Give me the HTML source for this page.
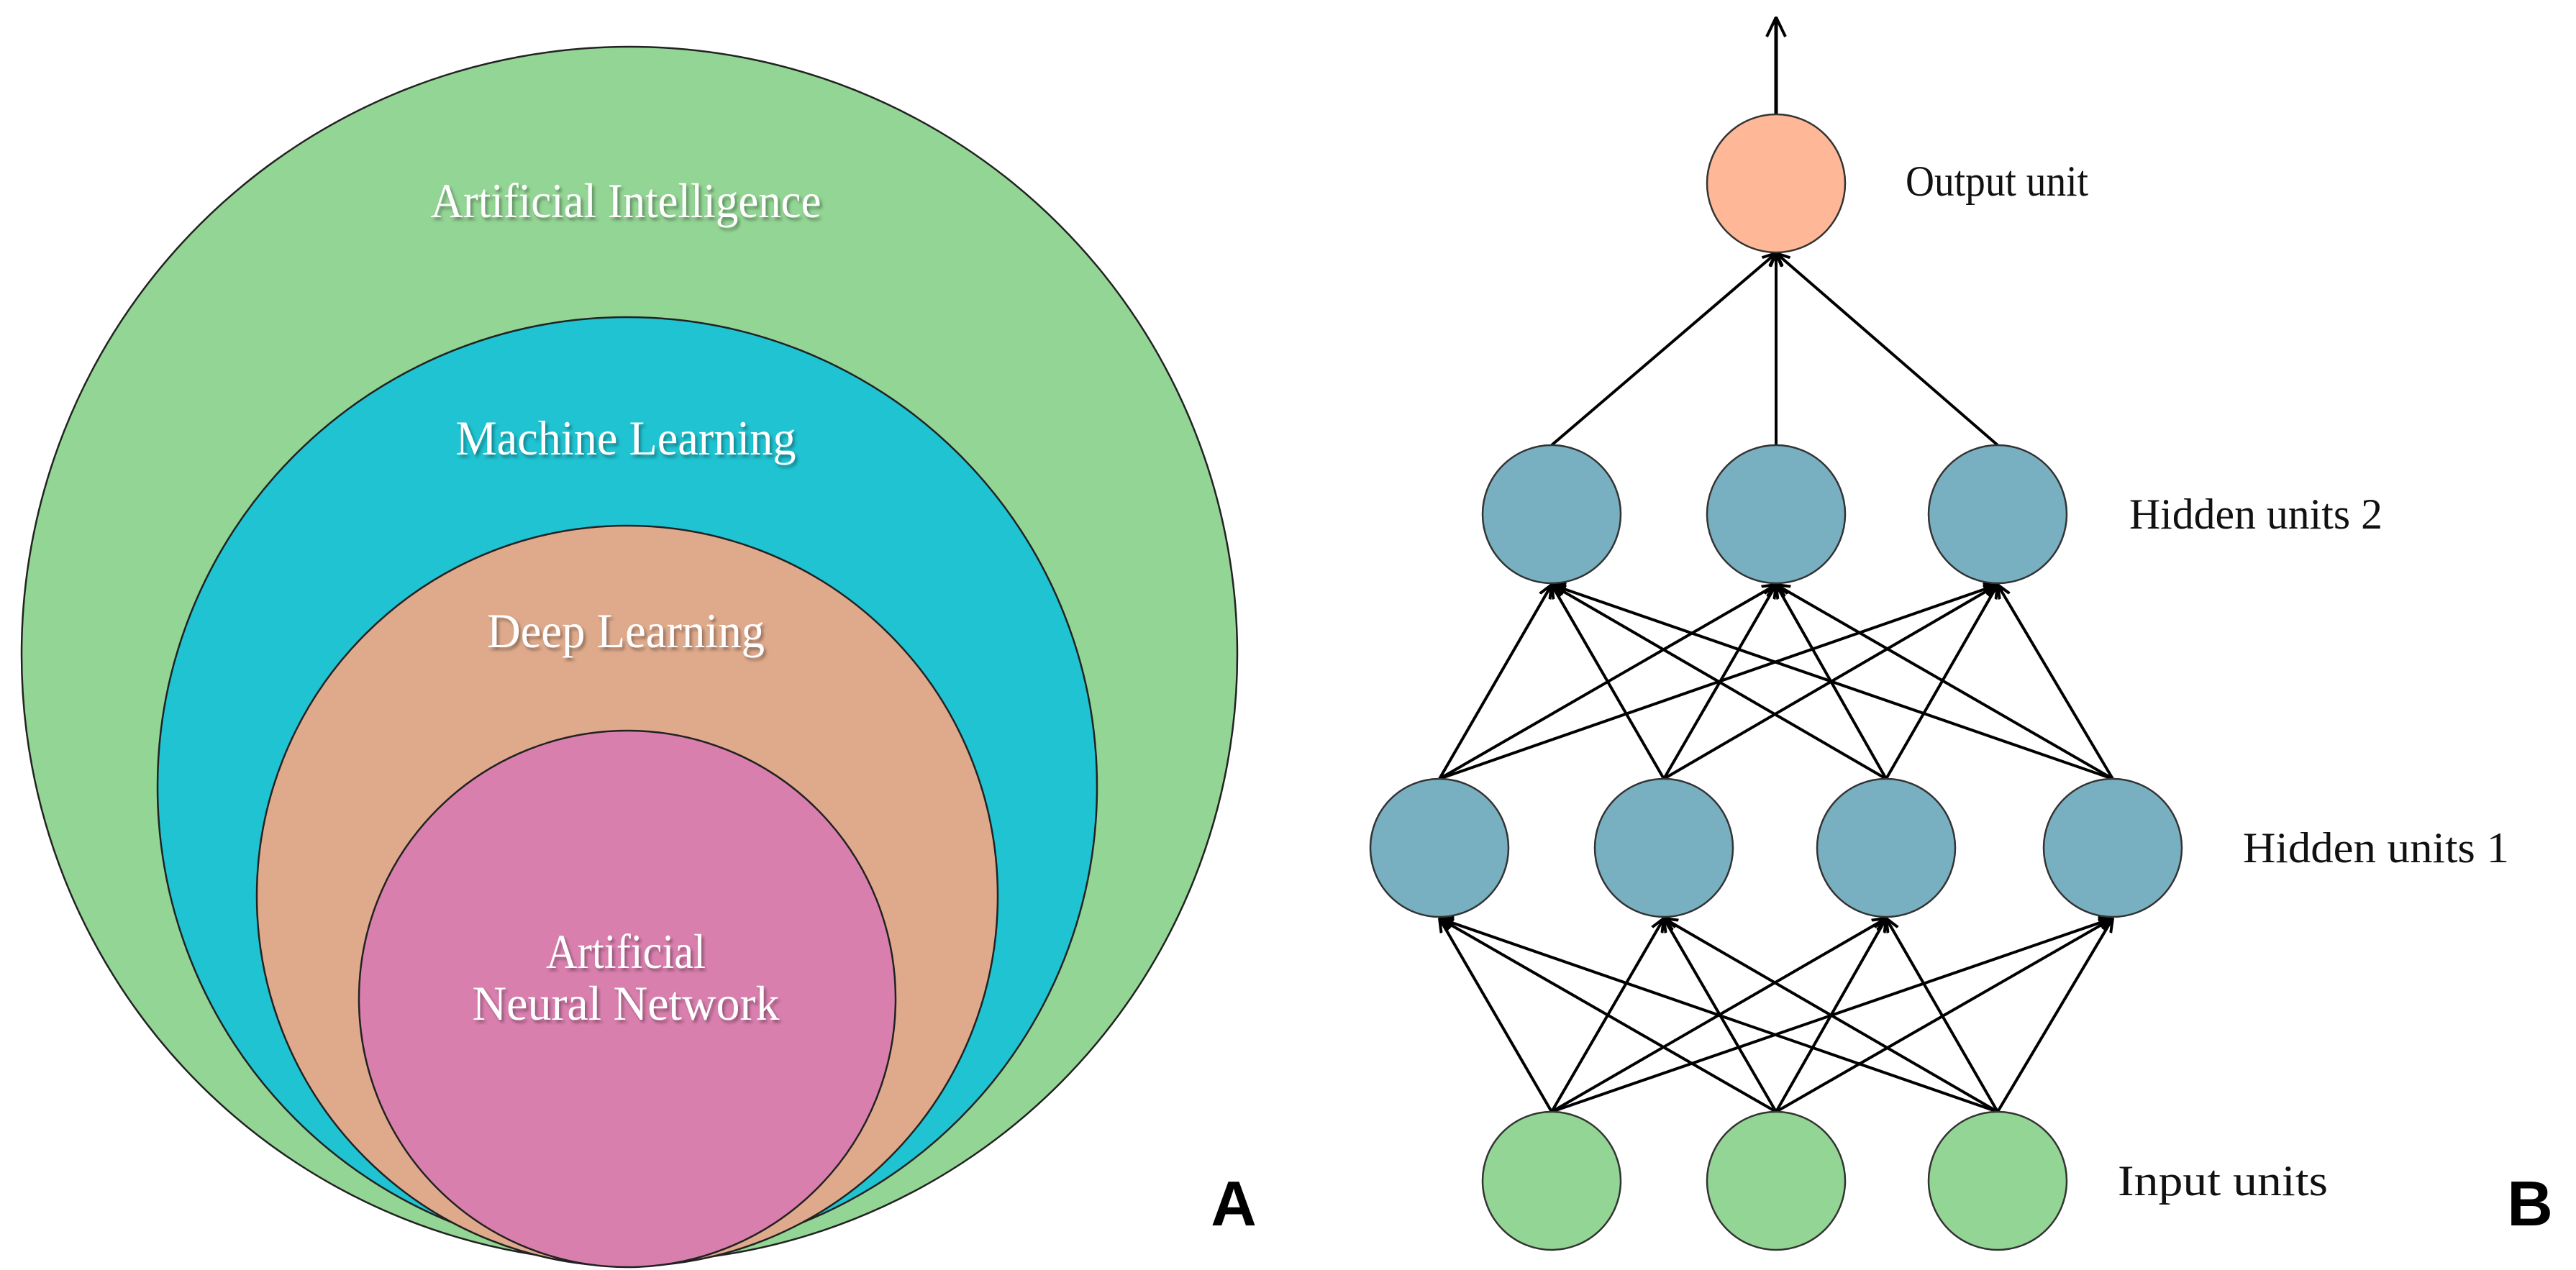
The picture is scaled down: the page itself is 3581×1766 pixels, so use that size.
<!DOCTYPE html>
<html><head><meta charset="utf-8"><style>
html,body{margin:0;padding:0;background:#fff;}
svg{display:block;}
.w{font-family:"Liberation Serif",serif;fill:#fff;font-size:68px;text-anchor:middle;filter:url(#sh);}
.l{font-family:"Liberation Serif",serif;fill:#111;font-size:60px;}
</style></head><body>
<svg width="3581" height="1766" viewBox="0 0 3581 1766" xmlns="http://www.w3.org/2000/svg">
<defs>
<filter id="sh" x="-10%" y="-30%" width="120%" height="160%"><feDropShadow dx="3" dy="4" stdDeviation="2" flood-color="#000" flood-opacity="0.35"/></filter>
<marker id="ah" viewBox="0 0 20 20" refX="19" refY="10" markerWidth="20" markerHeight="20" markerUnits="userSpaceOnUse" orient="auto">
<path d="M0,2 L19,10 L0,18" fill="none" stroke="#000" stroke-width="4"/></marker>
<marker id="ah2" viewBox="0 0 30 30" refX="29" refY="15" markerWidth="30" markerHeight="30" markerUnits="userSpaceOnUse" orient="auto">
<path d="M2,2 L29,15 L2,28" fill="none" stroke="#000" stroke-width="4"/></marker>
</defs>
<g stroke="#222" stroke-width="2.5">
<circle cx="875" cy="910" r="845" fill="#93d594"/>
<circle cx="872" cy="1094" r="653" fill="#1fc3d1"/>
<circle cx="872" cy="1246" r="515" fill="#dfaa8c"/>
<circle cx="872" cy="1389" r="373" fill="#d97fae"/>
</g>
<text class="w" x="870" y="302" textLength="543" lengthAdjust="spacingAndGlyphs">Artificial  Intelligence</text>
<text class="w" x="870" y="632" textLength="473" lengthAdjust="spacingAndGlyphs">Machine Learning</text>
<text class="w" x="870" y="900" textLength="386" lengthAdjust="spacingAndGlyphs">Deep Learning</text>
<text class="w" x="870" y="1346" textLength="222" lengthAdjust="spacingAndGlyphs">Artificial</text>
<text class="w" x="870" y="1418" textLength="427" lengthAdjust="spacingAndGlyphs">Neural Network</text>
<text x="1715" y="1704" font-family="Liberation Sans,sans-serif" font-weight="bold" font-size="88" text-anchor="middle">A</text>

<g stroke="#000" stroke-width="4" marker-end="url(#ah)">
<line x1="2157" y1="1546" x2="2001" y2="1277"/><line x1="2157" y1="1546" x2="2313" y2="1277"/><line x1="2157" y1="1546" x2="2622" y2="1277"/><line x1="2157" y1="1546" x2="2937" y2="1277"/>
<line x1="2469" y1="1546" x2="2001" y2="1277"/><line x1="2469" y1="1546" x2="2313" y2="1277"/><line x1="2469" y1="1546" x2="2622" y2="1277"/><line x1="2469" y1="1546" x2="2937" y2="1277"/>
<line x1="2777" y1="1546" x2="2001" y2="1277"/><line x1="2777" y1="1546" x2="2313" y2="1277"/><line x1="2777" y1="1546" x2="2622" y2="1277"/><line x1="2777" y1="1546" x2="2937" y2="1277"/>
<line x1="2001" y1="1083" x2="2157" y2="813"/><line x1="2001" y1="1083" x2="2469" y2="813"/><line x1="2001" y1="1083" x2="2777" y2="813"/>
<line x1="2313" y1="1083" x2="2157" y2="813"/><line x1="2313" y1="1083" x2="2469" y2="813"/><line x1="2313" y1="1083" x2="2777" y2="813"/>
<line x1="2622" y1="1083" x2="2157" y2="813"/><line x1="2622" y1="1083" x2="2469" y2="813"/><line x1="2622" y1="1083" x2="2777" y2="813"/>
<line x1="2937" y1="1083" x2="2157" y2="813"/><line x1="2937" y1="1083" x2="2469" y2="813"/><line x1="2937" y1="1083" x2="2777" y2="813"/>
<line x1="2157" y1="619" x2="2469" y2="352"/><line x1="2469" y1="619" x2="2469" y2="352"/><line x1="2777" y1="619" x2="2469" y2="352"/>
</g>
<line x1="2469" y1="159" x2="2469" y2="24" stroke="#000" stroke-width="5" marker-end="url(#ah2)"/>
<g stroke="#333" stroke-width="2.5">
<circle cx="2469" cy="255" r="96" fill="#ffb897"/>
<circle cx="2157" cy="715" r="96" fill="#78b0c2"/><circle cx="2469" cy="715" r="96" fill="#78b0c2"/><circle cx="2777" cy="715" r="96" fill="#78b0c2"/>
<circle cx="2001" cy="1179" r="96" fill="#78b0c2"/><circle cx="2313" cy="1179" r="96" fill="#78b0c2"/><circle cx="2622" cy="1179" r="96" fill="#78b0c2"/><circle cx="2937" cy="1179" r="96" fill="#78b0c2"/>
<circle cx="2157" cy="1642" r="96" fill="#93d594"/><circle cx="2469" cy="1642" r="96" fill="#93d594"/><circle cx="2777" cy="1642" r="96" fill="#93d594"/>
</g>
<text class="l" x="2649" y="272" textLength="254" lengthAdjust="spacingAndGlyphs">Output unit</text>
<text class="l" x="2960" y="735" textLength="352" lengthAdjust="spacingAndGlyphs">Hidden units 2</text>
<text class="l" x="3118" y="1199" textLength="370" lengthAdjust="spacingAndGlyphs">Hidden units 1</text>
<text class="l" x="2944" y="1662" textLength="292" lengthAdjust="spacingAndGlyphs">Input units</text>
<text x="3517" y="1704" font-family="Liberation Sans,sans-serif" font-weight="bold" font-size="88" text-anchor="middle">B</text>
</svg>
</body></html>
